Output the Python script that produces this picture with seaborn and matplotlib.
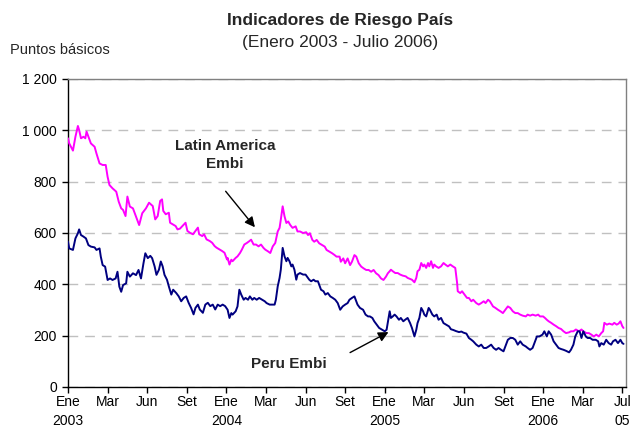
import numpy as np
import pandas as pd
import seaborn as sns
import matplotlib.pyplot as plt
from matplotlib.ticker import FuncFormatter

# Dias habiles desde enero 2003 y puntos basicos
dias_latam = [0, 2, 8, 12, 16, 18, 21, 25, 28, 30, 33, 37, 43, 46, 51, 56, 61, 64, 67, 72, 78, 82, 86, 89, 93, 96, 100, 105, 110, 115, 120, 126,
              131, 137, 141, 145, 149, 152, 154, 158, 163, 165, 169, 174, 177, 181, 185, 190, 193, 197, 202, 206, 210, 212, 217, 220, 224, 229, 233, 237, 240, 245, 249, 253, 257,
              258, 261, 264, 266, 271, 274, 278, 281, 285, 289, 293, 296, 300, 304, 308, 312, 316, 319, 323, 327, 331, 335, 339, 342, 344, 347, 350, 353, 356, 359, 363, 368, 371, 375, 380, 385,
              388, 391, 395, 398, 402, 406, 411, 415, 418, 423, 427, 431, 434, 439, 441, 445, 448, 452, 456, 459, 463, 466, 470, 474, 478, 482, 486, 490, 494, 498, 502, 506, 510, 514, 517,
              520, 522, 525, 529, 533, 537, 541, 546, 549, 553, 556, 560, 563, 565, 568, 571, 574, 576, 579, 582, 584, 587, 590, 592, 595, 599, 603, 607, 610, 614, 618, 622, 626, 629, 630, 634, 637, 641, 645,
              648, 652, 655, 660, 664, 668, 672, 675, 679, 682, 687, 691, 695, 699, 703, 707, 711, 715, 719, 723, 727, 731, 735, 740, 743, 747, 751, 756, 760, 763, 768, 771, 774,
              777, 781, 785, 789, 793, 797, 801, 805, 810, 813, 817, 821, 826, 830, 833, 838, 842, 846, 850, 854, 858, 862, 865, 867, 871, 875, 880, 883, 887, 890, 893, 896, 898]
latam = [969, 949, 921, 975, 1017, 1001, 969, 975, 969, 995, 975, 949, 936, 910, 871, 865, 865, 819, 787, 774, 761, 722, 696, 690, 666, 742, 703, 696, 664, 631, 677, 696,
         718, 705, 653, 666, 725, 731, 686, 673, 679, 640, 634, 627, 614, 617, 627, 640, 608, 601, 595, 608, 621, 595, 588, 595, 575, 569, 562, 549, 543, 536, 530, 523, 497,
         503, 477, 496, 490, 503, 509, 522, 535, 555, 561, 568, 574, 555, 555, 548, 555, 542, 535, 529, 522, 548, 561, 606, 620, 652, 704, 665, 639, 645, 632, 620, 626, 606, 606, 600, 603,
         592, 599, 573, 566, 573, 560, 553, 547, 534, 527, 521, 514, 508, 508, 488, 501, 482, 501, 475, 488, 514, 508, 482, 469, 462, 456, 456, 449, 456, 443, 436, 423, 417, 430, 443,
         451, 457, 451, 444, 444, 438, 434, 431, 425, 421, 418, 408, 425, 451, 457, 483, 470, 477, 464, 483, 470, 490, 464, 477, 470, 464, 470, 483, 477, 470, 477, 470, 464, 405, 373, 366, 373, 360, 347,
         347, 334, 340, 327, 321, 327, 334, 327, 340, 334, 314, 308, 301, 295, 288, 301, 314, 308, 295, 288, 288, 282, 278, 275, 282, 278, 282, 278, 282, 275, 275, 269, 262,
         256, 250, 243, 237, 230, 226, 217, 210, 213, 217, 217, 224, 217, 224, 217, 210, 210, 204, 197, 204, 197, 210, 217, 250, 243, 247, 243, 250, 243, 247, 256, 237, 230]

dias_peru = [0, 2, 8, 12, 16, 18, 21, 25, 29, 33, 37, 43, 46, 51, 53, 56, 60, 64, 68, 72, 77, 80, 83, 86, 89, 94, 96, 100, 105, 110, 114, 118, 122, 125,
             129, 133, 136, 140, 143, 147, 150, 153, 156, 160, 163, 167, 170, 175, 179, 183, 187, 191, 195, 199, 203, 206, 210, 213, 218, 222, 226, 230, 234, 238, 242, 246, 250, 254,
             258, 261, 264, 266, 271, 274, 277, 280, 284, 287, 291, 294, 298, 301, 305, 309, 314, 318, 321, 326, 330, 334, 336, 339, 342, 344, 347, 350, 353, 355, 358, 361, 363, 366, 369, 371, 375, 380, 384, 388,
             390, 393, 397, 400, 404, 406, 409, 413, 416, 420, 424, 428, 432, 436, 440, 444, 448, 452, 455, 459, 463, 466, 468, 472, 477, 481, 485, 488, 492, 495, 499, 503, 508, 512, 515,
             520, 522, 525, 528, 531, 535, 538, 542, 545, 549, 553, 556, 560, 563, 565, 568, 571, 574, 576, 579, 583, 585, 589, 592, 596, 599, 603, 607, 611, 616, 619, 623, 627, 632, 636, 639, 644,
             648, 652, 655, 660, 664, 668, 672, 676, 680, 684, 688, 692, 696, 700, 704, 707, 711, 715, 719, 723, 727, 731, 735, 740, 743, 747, 751, 754, 758, 762, 767, 770, 774,
             777, 781, 785, 789, 793, 797, 801, 805, 810, 813, 817, 820, 824, 827, 830, 833, 837, 840, 844, 848, 853, 857, 859, 862, 866, 870, 874, 878, 881, 885, 889, 893, 896, 898]
peru = [566, 540, 534, 579, 599, 614, 592, 586, 579, 553, 547, 544, 534, 540, 508, 475, 469, 417, 423, 417, 423, 449, 391, 371, 397, 404, 449, 430, 443, 436, 456, 423, 482, 521,
        502, 511, 502, 470, 437, 457, 489, 470, 437, 418, 392, 360, 379, 366, 353, 334, 347, 353, 328, 308, 283, 308, 321, 302, 289, 321, 328, 315, 321, 302, 321, 315, 321, 315,
        301, 269, 288, 282, 295, 314, 379, 360, 340, 347, 340, 353, 340, 347, 340, 347, 340, 334, 327, 321, 321, 321, 340, 392, 425, 457, 542, 509, 490, 503, 490, 470, 477, 457, 418, 438, 444, 438, 438, 425,
        418, 412, 418, 412, 412, 399, 379, 373, 360, 366, 353, 347, 340, 327, 301, 314, 321, 327, 340, 347, 353, 334, 321, 308, 301, 282, 275, 275, 269, 256, 243, 230, 223, 217, 223,
        295, 269, 275, 282, 275, 262, 269, 256, 262, 269, 249, 230, 197, 223, 249, 269, 308, 295, 282, 275, 308, 301, 282, 275, 282, 262, 269, 249, 243, 236, 225, 222, 218, 214, 216, 212, 208,
        191, 184, 178, 165, 158, 165, 152, 152, 158, 165, 152, 145, 152, 145, 139, 158, 184, 191, 191, 184, 165, 178, 165, 158, 152, 145, 152, 171, 197, 197, 204, 217, 197,
        217, 204, 178, 165, 152, 148, 145, 141, 135, 145, 165, 197, 217, 217, 191, 217, 197, 191, 191, 184, 184, 178, 158, 171, 165, 184, 171, 165, 178, 184, 171, 184, 171, 168]

etiquetas_x = ["Ene\n2003", "Mar", "Jun", "Set", "Ene\n2004", "Mar", "Jun", "Set",
               "Ene\n2005", "Mar", "Jun", "Set", "Ene\n2006", "Mar", "Jul\n05"]

sns.set_style("white")
plt.rcParams["font.family"] = ["Liberation Sans", "DejaVu Sans"]

fig = plt.figure(figsize=(6.32, 4.32), dpi=100)
ax = fig.add_axes([68 / 632, 1 - 387 / 432, 558 / 632, 308 / 432])

df_latam = pd.DataFrame({"dia": dias_latam, "pb": latam})
df_peru = pd.DataFrame({"dia": dias_peru, "pb": peru})
sns.lineplot(data=df_latam, x="dia", y="pb", color="#FF00FF", lw=1.4,
             estimator=None, sort=False, ax=ax, zorder=3)
sns.lineplot(data=df_peru, x="dia", y="pb", color="#000080", lw=1.4,
             estimator=None, sort=False, ax=ax, zorder=3)

ax.set_xlim(0, 902)
ax.set_ylim(0, 1200)
ax.set_xticks(np.arange(0, 897, 64))
ax.set_xticklabels(etiquetas_x, linespacing=1.45)
ax.set_yticks(range(0, 1201, 200))
ax.yaxis.set_major_formatter(FuncFormatter(lambda v, p: f"{int(v):,}".replace(",", " ")))
ax.set_xlabel("")
ax.set_ylabel("")

ax.grid(axis="y", color="#c0c0c0", lw=1, ls=(0, (7, 5)))
ax.set_axisbelow(True)
for s in ["left", "bottom"]:
    ax.spines[s].set_color("black")
    ax.spines[s].set_linewidth(1)
for s in ["top", "right"]:
    ax.spines[s].set_color("#808080")
    ax.spines[s].set_linewidth(1)
ax.tick_params(axis="both", direction="out", length=4, width=1, color="black",
               labelsize=10, labelcolor="black", left=True, bottom=True)
ax.tick_params(axis="x", pad=2)
ax.tick_params(axis="y", pad=4)

fig.text(0.538, 1 - 21 / 432, "Indicadores de Riesgo País", ha="center", va="center",
         fontsize=12.5, fontweight="bold")
fig.text(0.538, 1 - 43 / 432, "(Enero 2003 - Julio 2006)", ha="center", va="center",
         fontsize=12.5)
fig.text(10 / 632, 1 - 50 / 432, "Puntos básicos", ha="left", va="center", fontsize=10.5)

# Anotaciones
ax.text(254, 904, "Latin America\nEmbi", ha="center", va="center", fontsize=11,
        fontweight="bold", linespacing=1.35)
ax.annotate("", xy=(305, 614), xytext=(252, 771),
            arrowprops=dict(arrowstyle="-|>", color="black", lw=1, mutation_scale=15))
ax.text(357, 90, "Peru Embi", ha="center", va="center", fontsize=11, fontweight="bold")
ax.annotate("", xy=(522, 219), xytext=(452, 129),
            arrowprops=dict(arrowstyle="-|>", color="black", lw=1, mutation_scale=15))

fig.savefig("out.png", dpi=100)
